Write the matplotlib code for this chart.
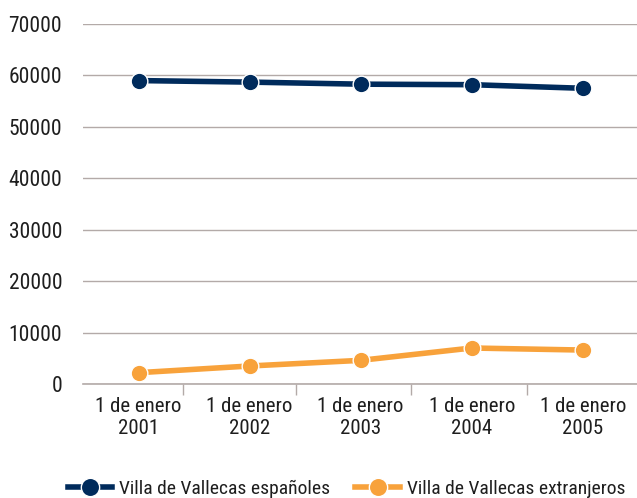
import matplotlib
matplotlib.use("Agg")
import matplotlib.pyplot as plt
from matplotlib import font_manager as fm

categories = ["1 de enero\n2001", "1 de enero\n2002", "1 de enero\n2003", "1 de enero\n2004", "1 de enero\n2005"]
espanoles = [59000, 58700, 58300, 58200, 57500]
extranjeros = [2200, 3500, 4600, 7000, 6600]
yticks = [0, 10000, 20000, 30000, 40000, 50000, 60000, 70000]

names = {f.name for f in fm.fontManager.ttflist}
fam = [f for f in ["Liberation Sans Narrow", "Roboto Condensed", "Liberation Sans"] if f in names] + ["DejaVu Sans"]
plt.rcParams['font.family'] = fam

navy = "#002b5c"
orange = "#f8a23b"
grid = "#b3aaa8"
txt = "#1e1e1e"

fig = plt.figure(figsize=(6.37, 4.98), dpi=100)
ax = fig.add_axes([83/637, (498-384)/498, 1 - 83/637 + 0.002, (384-24)/498])

x = list(range(len(categories)))
ax.plot(x, espanoles, color=navy, lw=4, marker='o', ms=12, mec='white', mew=1, label="Villa de Vallecas españoles", zorder=3)
ax.plot(x, extranjeros, color=orange, lw=4, marker='o', ms=12, mec='white', mew=1, label="Villa de Vallecas extranjeros", zorder=3)

ax.set_ylim(0, 70000)
ax.set_xlim(-0.5, 4.5)
ax.set_yticks(yticks)
ax.set_yticklabels([str(v) for v in yticks], fontsize=15.5, color=txt)
ax.yaxis.grid(True, color=grid, lw=1)
ax.set_axisbelow(True)
ax.tick_params(axis='y', length=0, pad=15)

ax.set_xticks(x)
ax.set_xticklabels(categories, fontsize=15, color=txt, linespacing=1.25)
ax.set_xticks([0.4, 1.42, 2.45, 3.5], minor=True)
ax.tick_params(axis='x', which='major', length=0, pad=9)
ax.tick_params(axis='x', which='minor', length=8, color=grid, width=1)

for s in ['top', 'right', 'left']:
    ax.spines[s].set_visible(False)
ax.spines['bottom'].set_color(grid)
ax.spines['bottom'].set_linewidth(1.2)

leg = fig.legend(loc='center left', bbox_to_anchor=(50/637, 1 - 489/498), ncol=2, frameon=False,
                 prop={'size': 14}, handlelength=2.3, columnspacing=1.3,
                 handletextpad=0.35, labelcolor=txt, markerscale=1.1)

fig.savefig("out.png", dpi=100)
